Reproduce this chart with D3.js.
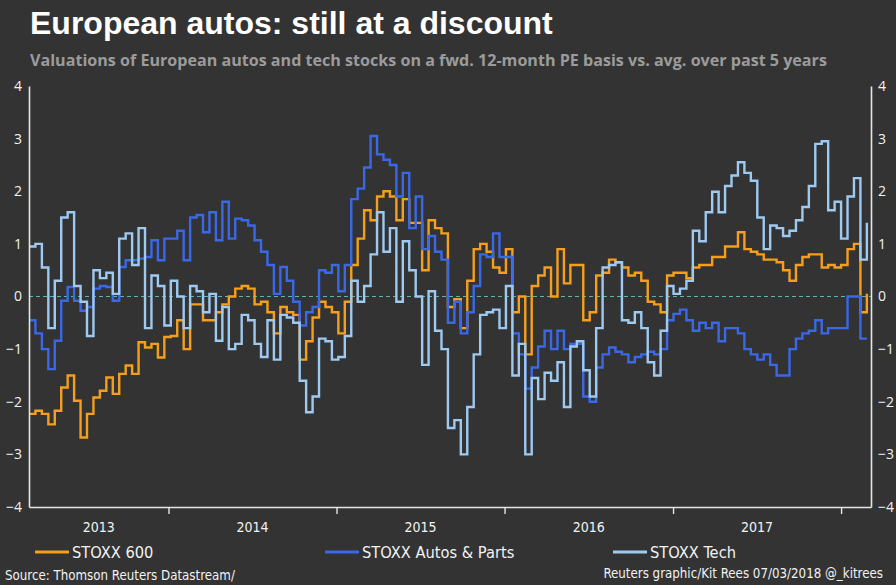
<!DOCTYPE html>
<html>
<head>
<meta charset="utf-8">
<script src="https://cdn.jsdelivr.net/npm/d3@7"></script>
<style>
  body { margin: 0; background: #333333; }
  svg { display: block; }
  .narrow { font-family: "Liberation Sans Narrow", "Arial Narrow", "DejaVu Sans Condensed", sans-serif; }
</style>
</head>
<body>
<div id="chart"></div>
<script>
const WIDTH = 896
const HEIGHT = 585
const LEFT = 29
const RIGHT = 871
const TOP = 86
const BOTTOM = 507

const START = new Date(2013, 2, 4)
const END = new Date(2018, 2, 7)
const STEP_DAYS = 14

const YEAR_LABELS = ['2013', '2014', '2015', '2016', '2017']
const Y_TICKS = [-4, -3, -2, -1, 0, 1, 2, 3, 4]
const SERIES_NAMES = ['STOXX 600', 'STOXX Autos & Parts', 'STOXX Tech']

// fortnightly readings, z-score of fwd 12m PE vs 5y average
const stoxx600 = [
  -2.23, -2.17, -2.23, -2.43, -2.17, -1.73, -1.5, -1.98, -2.68, -2.23, -1.92, -1.79, -1.54, -1.85, -1.47, -1.31, -1.47, -0.87, -0.97, -0.9, -1.16, -0.77,
  -0.75, -0.45, -1.0, -0.15, -0.15, -0.45, -0.45, -0.3, -0.15, 0.0, 0.15, 0.2, 0.15, -0.15, -0.1, -0.3, -0.7, -0.2, -0.3, -0.35, -1.2, -0.85,
  -0.4, -0.1, -0.2, -0.3, -0.7, -0.1, 0.6, 1.1, 1.64, 1.45, 1.9, 2.0, 1.9, 1.45, 1.85, 1.4, 1.4, 0.5, 1.45, 1.3, 1.2, -0.2,
  -0.05, -0.6, 0.3, 0.9, 1.0, 0.85, 0.55, 0.45, 0.9, -0.3, 0.0, -1.1, 0.2, 0.4, 0.55, 0.0, 0.9, 0.25, 0.6, 0.6, -0.45,
  -0.3, 0.4, 0.45, 0.7, 0.65, 0.55, 0.4, 0.45, 0.3, -0.1, -0.15, -0.3, 0.4, 0.45, 0.45, 0.35, 0.55, 0.6, 0.6, 0.75, 0.75, 0.95,
  0.95, 1.22, 0.9, 0.85, 0.8, 0.7, 0.7, 0.65, 0.5, 0.3, 0.6, 0.75, 0.8, 0.8, 0.55, 0.6, 0.55, 0.6, 0.9, 1.0, -0.3, 0.05
]

const autos = [
  -0.45, -0.7, -1.0, -1.38, -0.84, -0.08, 0.18, -0.08, -0.27, -0.2, 0.15, 0.2, 0.18, -0.08, 0.56, 0.69, 0.69, 0.72, 0.75, 1.07, 0.69, 1.1,
  1.1, 1.25, 0.69, 1.5, 1.55, 1.22, 1.6, 1.07, 1.8, 1.1, 1.48, 1.45, 1.35, 1.07, 0.85, 0.6, 0.05, 0.56, 0.3, -0.1, -0.55, -0.3,
  -0.2, 0.5, 0.45, 0.6, 0.1, 0.6, 1.85, 2.05, 2.45, 3.05, 2.7, 2.6, 2.5, 1.9, 2.35, 1.3, 1.9, 0.9, 1.15, 0.85, 0.7, -0.5,
  -0.1, -0.7, -0.3, 0.2, 0.8, 0.75, 1.2, 0.75, 0.75, -0.7, -1.1, -1.75, -1.35, -0.95, -0.65, -1.0, -0.65, -1.0, -0.9, -0.9, -1.9,
  -2.0, -1.35, -1.1, -0.97, -1.05, -1.1, -1.25, -1.15, -1.1, -1.05, -1.1, -1.0, -0.45, -0.33, -0.25, -0.45, -0.65, -0.5, -0.6, -0.5, -0.85, -0.6,
  -0.6, -0.7, -1.0, -1.1, -1.2, -1.1, -1.3, -1.5, -1.5, -1.0, -0.8, -0.7, -0.65, -0.45, -0.7, -0.6, -0.6, -0.6, 0.0, 0.0, -0.8, -0.8
]

const tech = [
  0.95, 1.0, 0.55, -0.6, 0.3, 1.5, 1.6, 0.2, -0.1, -0.75, 0.5, 0.35, 0.45, 0.05, 1.1, 1.2, 0.6, 1.3, -0.6, 0.4, 0.2, -0.55,
  0.3, 0.0, -0.6, 0.2, 0.1, -0.3, 0.05, -0.84, -0.2, -1.0, -0.9, -0.35, -0.45, -0.9, -1.15, -0.45, -1.2, -0.35, -0.4, -0.5, -1.6, -2.2,
  -1.9, -0.8, -0.85, -1.2, -1.15, -0.75, 0.3, -0.1, 0.2, 0.8, 1.6, 0.85, 1.3, -0.1, 1.05, 0.5, 0.0, -1.3, 0.1, -0.65, -1.0, -2.5,
  -2.35, -3.0, -2.1, -1.1, -0.35, -0.3, -0.25, -0.6, 0.2, -1.5, -0.9, -3.0, -1.55, -1.95, -1.45, -1.6, -1.25, -2.1, -0.95, -0.85, -1.4,
  -1.9, -0.6, 0.55, 0.6, 0.65, -0.45, -0.5, -0.3, -0.6, -1.25, -1.5, -0.65, 0.2, 0.05, 0.15, 0.3, 1.25, 1.05, 1.6, 1.99, 1.6, 2.1,
  2.3, 2.55, 2.35, 2.2, 1.5, 0.9, 1.35, 1.3, 1.15, 1.25, 1.45, 1.7, 2.1, 2.9, 2.95, 1.64, 1.8, 1.1, 1.9, 2.25, 0.7, 1.4
]

const COLORS = ['#f59f1c', '#3a68e8', '#9ec9f1']

const main = _ => {
  const dates = stoxx600.map((_, i) => d3.timeDay.offset(START, i * STEP_DAYS))
  const series = [stoxx600, autos, tech]

  const x = d3.scaleTime().domain([START, END]).range([LEFT, RIGHT])
  const y = d3.scaleLinear().domain([-4, 4]).range([BOTTOM, TOP])

  const svg = d3.select('#chart')
    .append('svg')
    .attr('width', WIDTH)
    .attr('height', HEIGHT)

  svg.append('rect')
    .attr('width', WIDTH)
    .attr('height', HEIGHT)
    .attr('fill', '#333333')

  svg.append('text')
    .attr('x', 30)
    .attr('y', 34)
    .attr('fill', '#ffffff')
    .style('font-family', '"Liberation Sans", Arial, sans-serif')
    .style('font-weight', 'bold')
    .style('font-size', '32px')
    .text('European autos: still at a discount')

  svg.append('text')
    .attr('x', 30)
    .attr('y', 66)
    .attr('fill', '#9b9b9b')
    .style('font-family', '"Open Sans", Lato, sans-serif')
    .style('font-weight', 'bold')
    .style('font-size', '16.1px')
    .text('Valuations of European autos and tech stocks on a fwd. 12-month PE basis vs. avg. over past 5 years')

  // zero reference
  svg.append('line')
    .attr('x1', LEFT)
    .attr('x2', RIGHT)
    .attr('y1', y(0))
    .attr('y2', y(0))
    .attr('stroke', '#5fb5a8')
    .attr('stroke-width', 1)
    .attr('stroke-dasharray', '4,3')

  const line = d3.line()
    .x((d, i) => x(dates[i]))
    .y(d => y(d))
    .curve(d3.curveStepAfter)

  svg.selectAll('.series')
    .data(series)
    .enter()
    .append('path')
    .attr('class', 'series')
    .attr('d', line)
    .attr('fill', 'none')
    .attr('stroke', (d, i) => COLORS[i])
    .attr('stroke-width', 2.4)
    .attr('stroke-linejoin', 'miter')

  const styleAxis = g => {
    g.select('.domain').attr('stroke', '#e6e6e6').attr('stroke-width', 1.6)
    g.selectAll('.tick line').attr('stroke', '#e6e6e6').attr('stroke-width', 1.4)
    g.selectAll('.tick text')
      .attr('fill', '#f2f2f2')
      .style('font-family', '"Open Sans", Lato, sans-serif')
      .style('font-size', '14px')
  }

  svg.append('g')
    .attr('transform', `translate(${LEFT}, 0)`)
    .call(d3.axisLeft(y).tickValues(Y_TICKS).tickSize(0).tickPadding(7).tickFormat(d3.format('d')))
    .call(styleAxis)

  svg.append('g')
    .attr('transform', `translate(${RIGHT}, 0)`)
    .call(d3.axisRight(y).tickValues(Y_TICKS).tickSize(0).tickPadding(7).tickFormat(d3.format('d')))
    .call(styleAxis)

  const yearStarts = d3.timeYear.range(new Date(2014, 0, 1), new Date(2018, 0, 2))
  svg.append('g')
    .attr('transform', `translate(0, ${BOTTOM})`)
    .call(d3.axisBottom(x).tickValues(yearStarts).tickSize(7).tickSizeOuter(0).tickFormat(''))
    .call(styleAxis)

  const bounds = [START, ...yearStarts, END]
  svg.selectAll('.year')
    .data(YEAR_LABELS)
    .enter()
    .append('text')
    .attr('class', 'year narrow')
    .attr('x', (d, i) => (x(bounds[i]) + x(bounds[i + 1])) / 2)
    .attr('y', 532)
    .attr('text-anchor', 'middle')
    .attr('fill', '#f2f2f2')
    .style('font-size', '14px')
    .text(d => d)

  const legendX = [35, 325, 613]
  const legend = svg.selectAll('.legend')
    .data(SERIES_NAMES)
    .enter()
    .append('g')
    .attr('class', 'legend')
    .attr('transform', (d, i) => `translate(${legendX[i]}, 552)`)

  legend.append('line')
    .attr('x1', 0)
    .attr('x2', 34)
    .attr('stroke', (d, i) => COLORS[i])
    .attr('stroke-width', 3)

  legend.append('text')
    .attr('class', 'narrow')
    .attr('x', 37)
    .attr('y', 6)
    .attr('fill', '#f2f2f2')
    .style('font-size', '16.3px')
    .text(d => d)

  svg.append('text')
    .attr('class', 'narrow')
    .attr('x', 5)
    .attr('y', 580)
    .attr('fill', '#f2f2f2')
    .style('font-size', '13.2px')
    .text('Source: Thomson Reuters Datastream/')

  svg.append('text')
    .attr('class', 'narrow')
    .attr('x', 883)
    .attr('y', 578)
    .attr('text-anchor', 'end')
    .attr('fill', '#f2f2f2')
    .style('font-size', '13.2px')
    .text('Reuters graphic/Kit Rees 07/03/2018 @_kitrees')
}

document.addEventListener('DOMContentLoaded', main)
</script>
</body>
</html>
